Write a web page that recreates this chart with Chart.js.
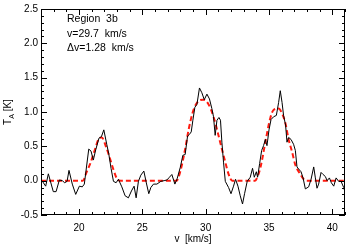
<!DOCTYPE html>
<html>
<head>
<meta charset="utf-8">
<script src="https://cdn.jsdelivr.net/npm/chart.js@4.4.1/dist/chart.umd.min.js"></script>
<style>
  html, body { margin: 0; padding: 0; background: #fff; }
  #wrap { width: 346px; height: 244px; position: relative; }
</style>
</head>
<body>
<div id="wrap"><canvas id="c"></canvas></div>
<script>
// observed spectrum (v in km/s, T_A in K)
const obsV = [17.15, 17.37, 17.58, 17.97, 18.19, 18.45, 18.68, 18.87, 19.06, 19.21, 19.47, 19.74,
  20.03, 20.26, 20.42, 20.77, 20.95, 21.13, 21.32, 21.58, 21.77, 21.96, 22.19, 22.35, 22.53,
  22.72, 22.93, 23.11, 23.38, 23.64, 23.90, 24.14, 24.35, 24.51, 24.69, 24.88, 25.12, 25.30,
  25.51, 25.67, 25.88, 26.15, 26.46, 26.72, 26.94, 27.14, 27.33, 27.57, 27.75, 27.99, 28.20,
  28.38, 28.57, 28.70, 28.86, 28.99, 29.15, 29.31, 29.51, 29.70, 29.89, 30.10, 30.30, 30.49,
  30.62, 30.75, 30.89, 31.05, 31.17, 31.28, 31.41, 31.55, 31.81, 32.00, 32.20, 32.36, 32.55,
  32.73, 32.91, 33.07, 33.28, 33.52, 33.70, 33.84, 34.00, 34.10, 34.26, 34.42, 34.57, 34.71,
  34.84, 35.00, 35.16, 35.36, 35.58, 35.76, 35.89, 36.03, 36.15, 36.31, 36.42, 36.55, 36.74,
  36.94, 37.08, 37.21, 37.34, 37.53, 37.69, 37.87, 38.13, 38.32, 38.53, 38.66, 38.79, 38.92,
  39.11, 39.27, 39.45, 39.59, 39.77, 39.92, 40.11, 40.30, 40.50, 40.69, 40.90, 41.03];
const obsT = [-0.02, -0.08, 0.10, -0.16, -0.16, 0.01, 0.00, -0.03, -0.01, 0.15, -0.05, -0.20,
  -0.08, -0.09, -0.05, 0.46, 0.43, 0.30, 0.45, 0.62, 0.64, 0.74, 0.53, 0.39, 0.18,
  -0.01, -0.03, 0.02, -0.09, -0.22, -0.25, -0.15, -0.08, -0.25, -0.01, 0.08, 0.14, -0.02,
  -0.19, -0.10, -0.05, -0.05, -0.01, 0.00, 0.01, 0.05, 0.09, -0.05, 0.03, 0.19, 0.37,
  0.38, 0.65, 0.67, 0.71, 0.88, 1.07, 1.11, 1.35, 1.28, 1.18, 1.26, 1.19, 1.05,
  0.93, 0.66, 0.88, 0.92, 0.88, 0.56, 0.27, -0.01, -0.10, -0.19, -0.08, 0.02, -0.08,
  -0.22, -0.34, -0.19, -0.01, 0.05, 0.18, 0.05, 0.13, 0.05, 0.25, 0.44, 0.51, 0.60,
  0.51, 0.74, 0.89, 0.93, 0.95, 1.14, 1.31, 1.14, 0.95, 0.81, 0.56, 0.63, 0.60,
  0.53, 0.44, 0.20, 0.17, 0.13, 0.04, -0.12, -0.09, 0.02, 0.20, 0.04, -0.11, -0.05,
  0.12, 0.09, 0.06, 0.00, 0.04, -0.03, -0.08, 0.04, -0.01, -0.01, -0.10, -0.19];

// gaussian fit (red dashed)
const fitV = [17.0, 20.3, 20.61, 20.87, 21.27, 21.53, 21.8, 22.14, 22.4, 22.72, 23.03, 23.3,
  27.7, 27.99, 28.38, 28.65, 29.04, 29.43, 29.8, 30.2, 30.62, 31.28, 31.55, 31.8, 32.1,
  33.9, 34.1, 34.31, 34.45, 34.71, 35.1, 35.36, 35.76, 36.03, 36.29, 36.55, 36.82, 37.08,
  37.42, 37.74, 38.0, 41.0];
const fitT = [0, 0, 0.13, 0.24, 0.46, 0.60, 0.63, 0.49, 0.35, 0.16, 0.02, 0,
  0, 0.13, 0.46, 0.74, 1.03, 1.16, 1.18, 1.12, 0.93, 0.46, 0.27, 0.10, 0,
  0, 0.06, 0.18, 0.30, 0.56, 0.91, 1.03, 1.05, 0.98, 0.84, 0.60, 0.42, 0.23,
  0.11, 0.02, 0, 0];

const xTicks = [20, 25, 30, 35, 40];
const yTicks = [-0.5, 0.0, 0.5, 1.0, 1.5, 2.0, 2.5];
const notes = ['Region  3b', 'v=29.7  km/s', '\u0394v=1.28  km/s'];

const FONT = '"Liberation Sans", Arial, sans-serif';

// IDL-style box with inward ticks, y title and annotation
const frame = {
    id: 'frame',
    afterDraw(chart) {
        const ctx = chart.ctx;
        const a = chart.chartArea;
        const xs = chart.scales.x, ys = chart.scales.y;
        ctx.save();
        ctx.strokeStyle = '#000';
        ctx.lineWidth = 1;
        ctx.strokeRect(a.left + 0.5, a.top + 0.5, a.right - a.left - 1, a.bottom - a.top - 1);
        ctx.beginPath();
        for (let v = 17; v <= 41; v++) {
            const len = v % 5 === 0 ? 6 : 3;
            const px = Math.round(xs.getPixelForValue(v)) + 0.5;
            ctx.moveTo(px, a.bottom); ctx.lineTo(px, a.bottom - len);
            ctx.moveTo(px, a.top); ctx.lineTo(px, a.top + len);
        }
        for (let i = -5; i <= 25; i++) {
            const len = i % 5 === 0 ? 6 : 3;
            const py = Math.round(ys.getPixelForValue(i / 10)) + 0.5;
            ctx.moveTo(a.left, py); ctx.lineTo(a.left + len, py);
            ctx.moveTo(a.right, py); ctx.lineTo(a.right - len, py);
        }
        ctx.stroke();

        // y title T_A [K]
        ctx.fillStyle = '#000';
        ctx.translate(11, (a.top + a.bottom) / 2);
        ctx.rotate(-Math.PI / 2);
        ctx.textBaseline = 'alphabetic';
        ctx.font = '10px ' + FONT;
        const w1 = ctx.measureText('T').width;
        ctx.font = '7px ' + FONT;
        const w2 = ctx.measureText('A').width;
        ctx.font = '10px ' + FONT;
        const w3 = ctx.measureText(' [K]').width;
        let x0 = -(w1 + w2 + w3) / 2;
        ctx.fillText('T', x0, 0);
        ctx.font = '7px ' + FONT;
        ctx.fillText('A', x0 + w1, 3);
        ctx.font = '10px ' + FONT;
        ctx.fillText(' [K]', x0 + w1 + w2, 0);
        ctx.restore();

        ctx.save();
        ctx.fillStyle = '#000';
        ctx.font = '10.5px ' + FONT;
        ctx.textBaseline = 'middle';
        notes.forEach((t, i) => ctx.fillText(t, 67, 19.5 + i * 14.5));
        ctx.restore();
    }
};

new Chart(document.getElementById('c'), {
    type: 'line',
    data: {
        datasets: [{
            data: obsV.map((v, i) => ({ x: v, y: obsT[i] })),
            borderColor: '#000',
            borderWidth: 1,
            pointRadius: 0,
            tension: 0
        }, {
            data: fitV.map((v, i) => ({ x: v, y: fitT[i] })),
            borderColor: '#ff1a0f',
            borderWidth: 2,
            borderDash: [5, 3],
            pointRadius: 0,
            cubicInterpolationMode: 'monotone'
        }]
    },
    options: {
        responsive: true,
        maintainAspectRatio: false,
        animation: false,
        layout: { padding: { top: 2, right: 1, left: 0, bottom: 0 } },
        plugins: { legend: { display: false }, tooltip: { enabled: false } },
        scales: {
            x: {
                type: 'linear',
                min: 17, max: 41,
                grid: { display: false, drawTicks: false },
                border: { display: false },
                afterBuildTicks: s => { s.ticks = xTicks.map(v => ({ value: v })); },
                afterFit: s => { s.height = 29; },
                ticks: { color: '#000', padding: 7, maxRotation: 0, font: { family: FONT, size: 10 } },
                title: { display: true, text: 'v  [km/s]', color: '#000', padding: 0, font: { family: FONT, size: 10, lineHeight: 0.9 } }
            },
            y: {
                min: -0.5, max: 2.5,
                grid: { display: false, drawTicks: false },
                border: { display: false },
                afterBuildTicks: s => { s.ticks = yTicks.map(v => ({ value: v })); },
                afterFit: s => { s.width = 41; },
                ticks: { color: '#000', padding: 3, font: { family: FONT, size: 10 }, callback: v => v.toFixed(1) }
            }
        }
    },
    plugins: [frame]
});
</script>
</body>
</html>
